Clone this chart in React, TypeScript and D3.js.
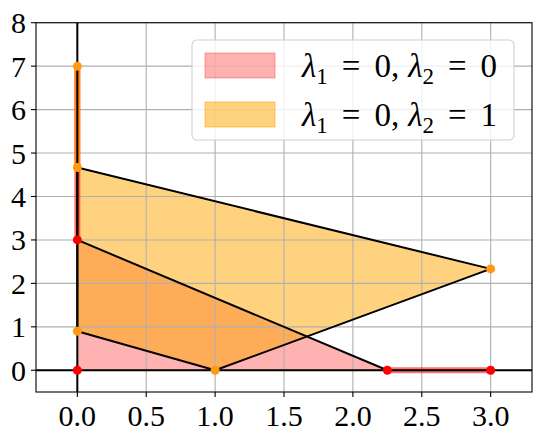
import * as d3 from 'd3';

const xTicks = [0, 0.5, 1.0, 1.5, 2.0, 2.5, 3.0];
const yTicks = [0, 1, 2, 3, 4, 5, 6, 7, 8];

// feasible sets
const pinkRegion: [number, number][] = [[0, 0], [0, 3], [2.25, 0]];
const orangeRegion: [number, number][] = [[0, 14 / 3], [3, 7 / 3], [1, 0], [0, 0.9]];
const redRays: [number, number][][] = [[[0, 3], [0, 7]], [[2.25, 0], [3, 0]]];
const orangeRays: [number, number][][] = [[[0, 14 / 3], [0, 7]]];
const redPoints: [number, number][] = [[0, 0], [0, 3], [2.25, 0], [3, 0]];
const orangePoints: [number, number][] = [[0, 7], [0, 14 / 3], [0, 0.9], [1, 0], [3, 7 / 3]];

const legendItems = [
  { sub1: '1', v1: '0', sub2: '2', v2: '0', fill: 'rgba(255,0,0,0.3)', edge: 'rgba(255,0,0,0.3)' },
  { sub1: '1', v1: '0', sub2: '2', v2: '1', fill: 'rgba(255,165,0,0.5)', edge: 'rgba(255,165,0,0.5)' },
];

const W = 541;
const H = 442;
const left = 36, right = 532, top = 22.7, bottom = 392;

export default function App() {
  const x = d3.scaleLinear().domain([-0.3, 3.3]).range([left, right]);
  const y = d3.scaleLinear().domain([-0.5, 8]).range([bottom, top]);
  const line = d3.line<[number, number]>().x(d => x(d[0])).y(d => y(d[1]));
  const poly = (pts: [number, number][]) => line(pts) + 'Z';
  const font = '"Liberation Serif", "DejaVu Serif", serif';

  return (
    <div style={{ position: 'fixed', left: 0, top: 0 }}>
      <svg width={W} height={H} style={{ display: 'block', background: '#fff' }}>
        <defs>
          <clipPath id="plot">
            <rect x={left} y={top} width={right - left} height={bottom - top} />
          </clipPath>
        </defs>
        <g clipPath="url(#plot)">
          <path d={poly(pinkRegion)} fill="rgba(255,0,0,0.3)" stroke="none" />
          <path d={poly(orangeRegion)} fill="rgba(255,165,0,0.5)" stroke="none" />
          {xTicks.map(t => (
            <line key={'gx' + t} x1={x(t)} x2={x(t)} y1={top} y2={bottom} stroke="#b0b0b0" strokeWidth={1.1} />
          ))}
          {yTicks.map(t => (
            <line key={'gy' + t} x1={left} x2={right} y1={y(t)} y2={y(t)} stroke="#b0b0b0" strokeWidth={1.1} />
          ))}
          {redRays.map((r, i) => (
            <path key={'rr' + i} d={line(r)!} stroke="rgba(255,0,0,0.55)" strokeWidth={6} fill="none" />
          ))}
          {orangeRays.map((r, i) => (
            <path key={'or' + i} d={line(r)!} stroke="rgba(255,140,0,0.75)" strokeWidth={6} fill="none" />
          ))}
          <line x1={x(0)} x2={x(0)} y1={top} y2={bottom} stroke="#000" strokeWidth={2} />
          <line x1={left} x2={right} y1={y(0)} y2={y(0)} stroke="#000" strokeWidth={2} />
          <path d={line([pinkRegion[1], pinkRegion[2]])!} stroke="#000" strokeWidth={2} fill="none" />
          <path d={poly(orangeRegion)} stroke="#000" strokeWidth={2} fill="none" strokeLinejoin="round" />
          {orangePoints.map((p, i) => (
            <circle key={'op' + i} cx={x(p[0])} cy={y(p[1])} r={4.5} fill="#ff9a10" />
          ))}
          {redPoints.map((p, i) => (
            <circle key={'rp' + i} cx={x(p[0])} cy={y(p[1])} r={4.5} fill="#ff0000" />
          ))}
        </g>
        <rect x={left} y={top} width={right - left} height={bottom - top} fill="none" stroke="#000" strokeWidth={1.1} />
        {xTicks.map(t => (
          <g key={'tx' + t}>
            <line x1={x(t)} x2={x(t)} y1={bottom} y2={bottom + 5} stroke="#000" strokeWidth={1.1} />
            <text x={x(t)} y={bottom + 34} textAnchor="middle" fontFamily={font} fontSize={30}>
              {t.toFixed(1)}
            </text>
          </g>
        ))}
        {yTicks.map(t => (
          <g key={'ty' + t}>
            <line x1={left - 5} x2={left} y1={y(t)} y2={y(t)} stroke="#000" strokeWidth={1.1} />
            <text x={left - 10} y={y(t) + 10.5} textAnchor="end" fontFamily={font} fontSize={30}>
              {t}
            </text>
          </g>
        ))}
        <g>
          <rect x={192} y={40} width={322} height={100} rx={5} fill="rgba(255,255,255,0.8)" stroke="#d0d0d0" strokeWidth={1.1} />
          {legendItems.map((it, i) => {
            const cy = 65.5 + i * 49;
            return (
              <g key={'lg' + i}>
                <rect x={205} y={cy - 12.5} width={70} height={25} fill={it.fill} stroke={it.edge} strokeWidth={1.1} />
                <text x={302} y={cy + 11} fontFamily={font} fontSize={33}>
                  <tspan fontStyle="italic">λ</tspan>
                  <tspan fontSize={23} dy={7}>{it.sub1}</tspan>
                  <tspan dy={-7} dx={14}>=</tspan>
                  <tspan dx={14}>{it.v1},</tspan>
                  <tspan dx={9} fontStyle="italic">λ</tspan>
                  <tspan fontSize={23} dy={7}>{it.sub2}</tspan>
                  <tspan dy={-7} dx={14}>=</tspan>
                  <tspan dx={14}>{it.v2}</tspan>
                </text>
              </g>
            );
          })}
        </g>
      </svg>
    </div>
  );
}
